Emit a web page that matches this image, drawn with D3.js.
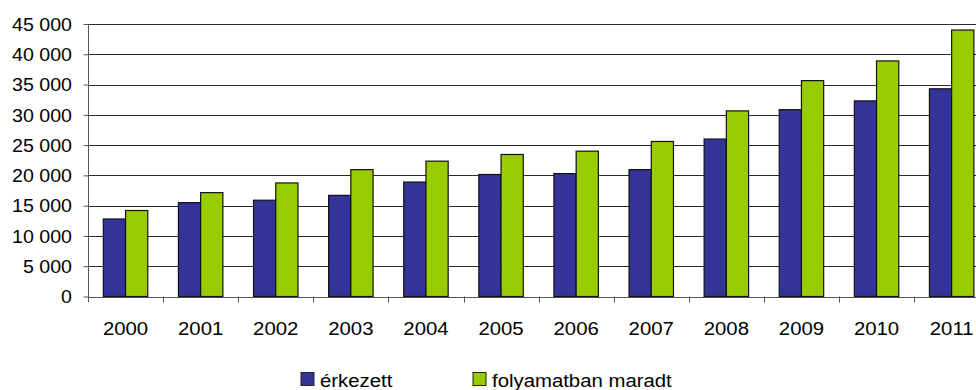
<!DOCTYPE html>
<html>
<head>
<meta charset="utf-8">
<script src="https://cdn.jsdelivr.net/npm/d3@7"></script>
<style>
  html, body { margin: 0; padding: 0; background: #fff; }
  svg { display: block; }
  text { font-family: "Liberation Sans", Arial, sans-serif; fill: #000; }
</style>
</head>
<body>
<svg id="chart" width="976" height="390"></svg>
<script>
// Yearly case counts: received vs. still pending
const years = ["2000", "2001", "2002", "2003", "2004", "2005", "2006", "2007", "2008", "2009", "2010", "2011"];
const seriesNames = ["érkezett", "folyamatban maradt"];
const erkezett = [12800, 15500, 15900, 16700, 18900, 20150, 20300, 20950, 26000, 30850, 32300, 34300];
const folyamatban = [14200, 17150, 18750, 20950, 22350, 23450, 24000, 25600, 30650, 35650, 38900, 44000];
const yTicks = [0, 5000, 10000, 15000, 20000, 25000, 30000, 35000, 40000, 45000];
const colors = ["#333399", "#99CC00"];

const svg = d3.select("#chart");
const W = 976;
const plotLeft = 88, plotTop = 24, plotBottom = 296.5;
const band = 75.1;
const fontSize = 18.5;

const x0 = d3.scaleBand().domain(years).range([plotLeft, plotLeft + band * years.length]).paddingInner(0).paddingOuter(0);
const x1 = d3.scaleBand().domain(seriesNames).range([0, x0.bandwidth()]).paddingInner(0).paddingOuter(0.69);
const y = d3.scaleLinear().domain([0, 45000]).range([plotBottom, plotTop]);
const fmt = v => d3.format(",")(v).replace(/,/g, " ");

// helper for horizontally widened labels
function label(g, x, yPos, str, anchor, baseline, stretch) {
  const t = g.append("g").attr("transform", `translate(${x},${yPos}) scale(${stretch},1)`)
    .append("text").attr("font-size", fontSize).attr("text-anchor", anchor).text(str);
  if (baseline) t.attr("dy", baseline);
  return t;
}

// horizontal gridlines
svg.append("g").selectAll("line").data(yTicks.filter(d => d > 0)).join("line")
  .attr("x1", plotLeft).attr("x2", W)
  .attr("y1", d => Math.round(y(d)) + 0.5).attr("y2", d => Math.round(y(d)) + 0.5)
  .attr("stroke", "#2a2a2a").attr("stroke-width", 1);

// y axis via d3.axisLeft
const yAxis = d3.axisLeft(y).tickValues(yTicks).tickSize(5).tickPadding(0).tickFormat(() => "");
const ya = svg.append("g").attr("transform", `translate(${plotLeft + 0.5},0)`).call(yAxis);
ya.select(".domain").remove();
ya.selectAll(".tick line").attr("stroke", "#555");
svg.append("line").attr("x1", plotLeft + 0.5).attr("x2", plotLeft + 0.5).attr("y1", plotTop).attr("y2", plotBottom + 5.5)
  .attr("stroke", "#555");
const yl = svg.append("g");
yTicks.forEach(v => label(yl, 72, y(v), fmt(v), "end", "0.36em", 1.06));

// x axis baseline and category ticks
svg.append("line").attr("x1", plotLeft).attr("x2", W)
  .attr("y1", Math.round(plotBottom) + 0.5).attr("y2", Math.round(plotBottom) + 0.5).attr("stroke", "#555");
svg.append("g").selectAll("line").data(years.slice(1)).join("line")
  .attr("x1", d => Math.round(x0(d)) + 0.5).attr("x2", d => Math.round(x0(d)) + 0.5)
  .attr("y1", plotBottom).attr("y2", plotBottom + 6)
  .attr("stroke", "#555");
const xl = svg.append("g");
years.forEach(yr => label(xl, x0(yr) + x0.bandwidth() / 2, 335, yr, "middle", null, 1.1));

// bars
const data = years.map((yr, i) => ({ year: yr, values: [erkezett[i], folyamatban[i]] }));
const groups = svg.append("g").selectAll("g").data(data).join("g")
  .attr("transform", d => `translate(${x0(d.year)},0)`);
groups.selectAll("rect").data(d => d.values.map((v, k) => ({ key: seriesNames[k], v, k }))).join("rect")
  .attr("x", d => x1(d.key))
  .attr("y", d => y(d.v))
  .attr("width", x1.bandwidth())
  .attr("height", d => y(0) - y(d.v))
  .attr("fill", d => colors[d.k])
  .attr("stroke", "#111")
  .attr("stroke-width", 1.2);

// legend
const legendX = [301, 473];
const lg = svg.append("g");
seriesNames.forEach((name, i) => {
  lg.append("rect").attr("x", legendX[i]).attr("y", 372.5).attr("width", 13).attr("height", 13)
    .attr("fill", colors[i]).attr("stroke", "#222").attr("stroke-width", 1);
  label(lg, legendX[i] + 19, 386.5, name, "start", null, 1.1);
});
</script>
</body>
</html>
